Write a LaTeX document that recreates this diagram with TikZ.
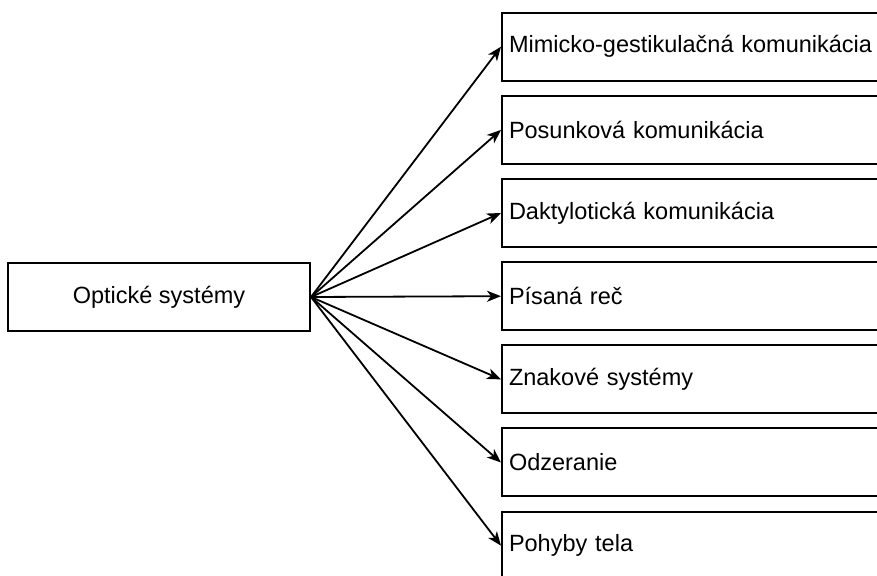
\documentclass[tikz,border=0pt]{standalone}
\usepackage{fontspec}
\setmainfont{Liberation Sans}
\usetikzlibrary{arrows.meta}
\begin{document}
\begin{tikzpicture}[x=1pt,y=1pt,
  srcbox/.style={draw=black, line width=2pt, minimum width=302pt, minimum height=68pt, inner sep=0pt, font=\fontsize{23.5}{28}\selectfont},
  tgtbox/.style={draw=black, line width=2pt, text width=375pt, inner xsep=7pt, inner ysep=0pt, minimum height=68pt, align=left, anchor=west, font=\fontsize{23.5}{28}\selectfont},
  arr/.style={draw=black, line width=1.8pt, -{Stealth[length=14pt,width=11pt,inset=4pt]}}]
\useasboundingbox (0,0) rectangle (877,575);
\clip (0,0) rectangle (877,575);
\node[srcbox] (src) at (159,278) {Optické systémy};
\node[tgtbox] (t1) at (501,528.3) {Mimicko-gestikulačná komunikácia};
\node[tgtbox] (t2) at (501,445.1) {Posunková komunikácia};
\node[tgtbox] (t3) at (501,362) {Daktylotická komunikácia};
\node[tgtbox] (t4) at (501,278.8) {Písaná reč};
\node[tgtbox] (t5) at (501,195.6) {Znakové systémy};
\node[tgtbox] (t6) at (501,112.5) {Odzeranie};
\node[tgtbox] (t7) at (501,29.3) {Pohyby tela};
\foreach \t in {t1,t2,t3,t4,t5,t6,t7}
  \draw[arr] (src.east) -- (\t.west);
\end{tikzpicture}
\end{document}
